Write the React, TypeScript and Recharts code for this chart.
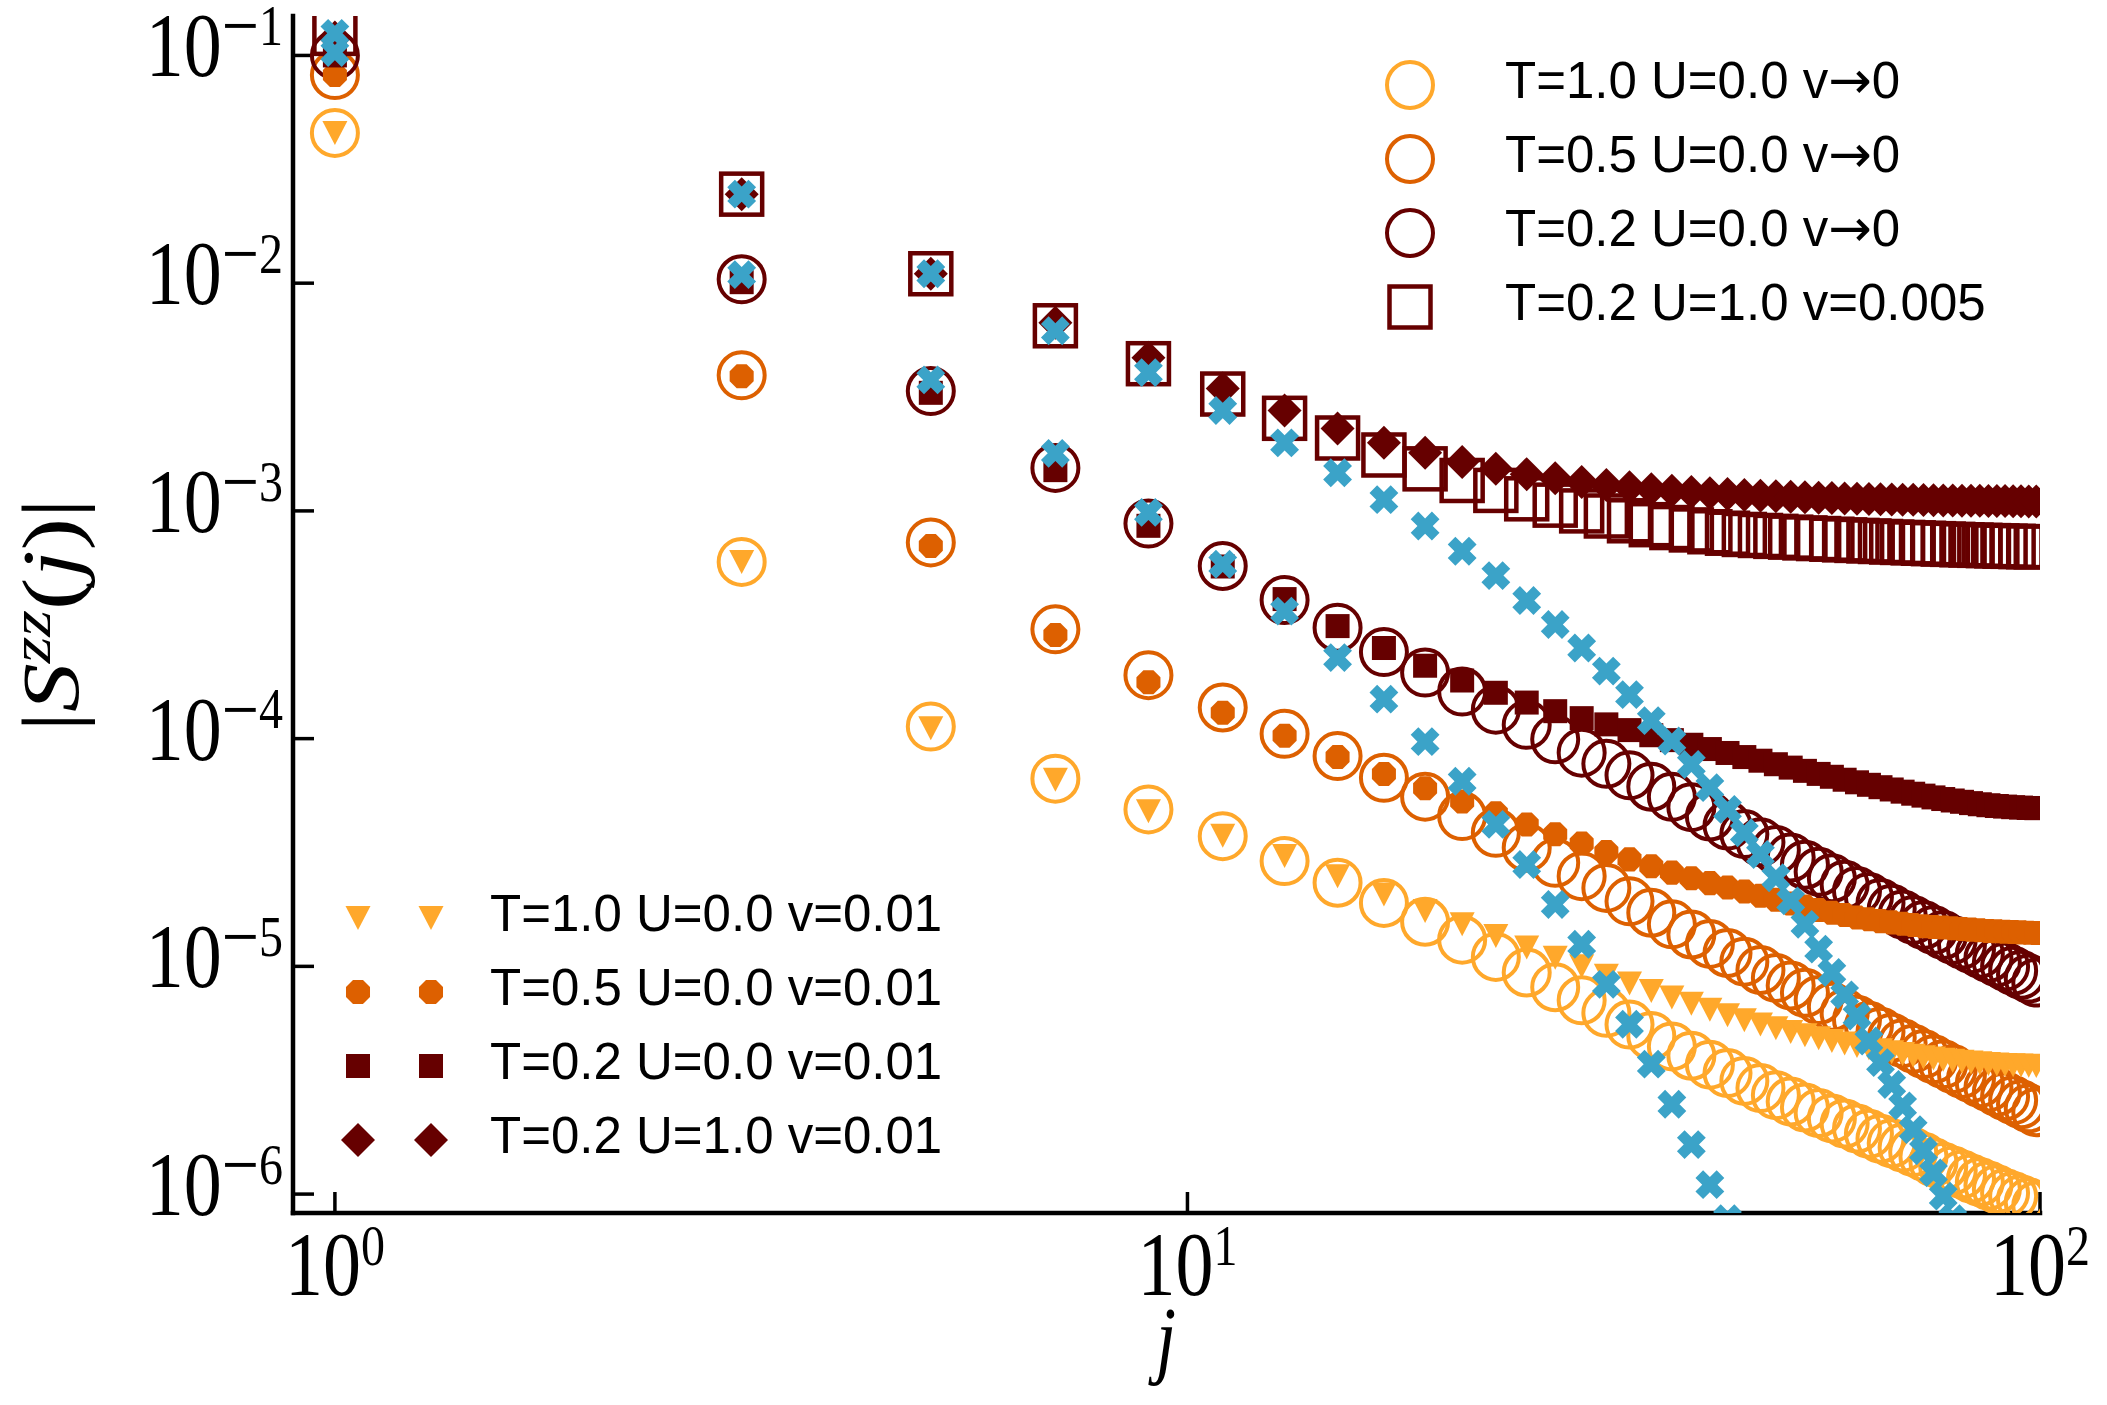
import React from 'react';
import { ScatterChart, Scatter, XAxis, YAxis } from 'recharts';

// site index j (odd sites)
const J = [1, 3, 5, 7, 9, 11, 13, 15, 17, 19, 21, 23, 25, 27, 29, 31, 33, 35, 37, 39, 41, 43, 45, 47, 49, 51, 53, 55, 57, 59, 61, 63, 65, 67, 69, 71, 73, 75, 77, 79, 81, 83, 85, 87, 89, 91, 93, 95, 97, 99];

// |S^zz(j)| — v -> 0 reference curves (open circles)
const T10_U0_V0 = [0.0457, 5.97e-4, 1.13e-4, 6.67e-5, 4.89e-5, 3.73e-5, 2.9e-5, 2.33e-5, 1.9e-5, 1.57e-5, 1.31e-5, 1.1e-5, 9.4e-6, 8.1e-6, 7.1e-6, 6.25e-6, 5.55e-6, 4.95e-6, 4.45e-6, 4.05e-6, 3.7e-6, 3.4e-6, 3.14e-6, 2.92e-6, 2.72e-6, 2.55e-6, 2.4e-6, 2.27e-6, 2.15e-6, 2.04e-6, 1.94e-6, 1.84e-6, 1.75e-6, 1.67e-6, 1.6e-6, 1.53e-6, 1.46e-6, 1.38e-6, 1.32e-6, 1.27e-6, 1.22e-6, 1.17e-6, 1.13e-6, 1.09e-6, 1.05e-6, 1.01e-6, 0.98e-6, 0.95e-6, 0.92e-6, 0.89e-6];
const T05_U0_V0 = [0.082, 3.94e-3, 7.27e-4, 3.02e-4, 1.9e-4, 1.37e-4, 1.05e-4, 8.38e-5, 6.73e-5, 5.56e-5, 4.57e-5, 3.86e-5, 3.32e-5, 2.85e-5, 2.49e-5, 2.21e-5, 1.93e-5, 1.72e-5, 1.53e-5, 1.38e-5, 1.255e-5, 1.145e-5, 1.049e-5, 9.64e-6, 8.9e-6, 8.24e-6, 7.65e-6, 7.12e-6, 6.64e-6, 6.22e-6, 5.83e-6, 5.48e-6, 5.16e-6, 4.86e-6, 4.6e-6, 4.35e-6, 4.12e-6, 3.91e-6, 3.72e-6, 3.54e-6, 3.37e-6, 3.22e-6, 3.07e-6, 2.94e-6, 2.81e-6, 2.69e-6, 2.58e-6, 2.48e-6, 2.38e-6, 2.29e-6];
const T02_U0_V0 = [0.1, 0.0104, 3.36e-3, 1.545e-3, 8.8e-4, 5.73e-4, 4.06e-4, 3.07e-4, 2.4e-4, 1.95e-4, 1.61e-4, 1.34e-4, 1.15e-4, 9.93e-5, 8.68e-5, 7.75e-5, 6.9e-5, 6.15e-5, 5.55e-5, 5.0e-5, 4.55e-5, 4.15e-5, 3.81e-5, 3.51e-5, 3.245e-5, 3.006e-5, 2.795e-5, 2.602e-5, 2.437e-5, 2.281e-5, 2.144e-5, 2.017e-5, 1.898e-5, 1.789e-5, 1.689e-5, 1.599e-5, 1.519e-5, 1.444e-5, 1.373e-5, 1.307e-5, 1.246e-5, 1.19e-5, 1.137e-5, 1.088e-5, 1.041e-5, 9.98e-6, 9.57e-6, 9.19e-6, 8.84e-6, 8.49e-6];
const T02_U1_V0005 = [0.125, 0.0246, 0.011, 6.5e-3, 4.43e-3, 3.26e-3, 2.55e-3, 2.09e-3, 1.76e-3, 1.53e-3, 1.36e-3, 1.23e-3, 1.13e-3, 1.06e-3, 1.0e-3, 9.5e-4, 9.05e-4, 8.7e-4, 8.45e-4, 8.25e-4, 8.1e-4, 7.98e-4, 7.88e-4, 7.8e-4, 7.73e-4, 7.67e-4, 7.61e-4, 7.56e-4, 7.51e-4, 7.46e-4, 7.42e-4, 7.38e-4, 7.34e-4, 7.3e-4, 7.27e-4, 7.24e-4, 7.21e-4, 7.18e-4, 7.15e-4, 7.13e-4, 7.1e-4, 7.08e-4, 7.06e-4, 7.04e-4, 7.02e-4, 7.0e-4, 6.99e-4, 6.97e-4, 6.96e-4, 6.95e-4];

// v = 0.01 curves (filled markers)
const T10_U0_V001 = [0.0457, 5.97e-4, 1.11e-4, 6.6e-5, 4.8e-5, 3.75e-5, 3.05e-5, 2.49e-5, 2.07e-5, 1.75e-5, 1.53e-5, 1.36e-5, 1.21e-5, 1.09e-5, 1.0e-5, 9.1e-6, 8.4e-6, 7.8e-6, 7.3e-6, 6.85e-6, 6.45e-6, 6.1e-6, 5.8e-6, 5.55e-6, 5.35e-6, 5.15e-6, 4.98e-6, 4.83e-6, 4.7e-6, 4.58e-6, 4.47e-6, 4.37e-6, 4.28e-6, 4.2e-6, 4.12e-6, 4.05e-6, 3.99e-6, 3.94e-6, 3.89e-6, 3.85e-6, 3.81e-6, 3.78e-6, 3.75e-6, 3.73e-6, 3.71e-6, 3.69e-6, 3.68e-6, 3.67e-6, 3.66e-6, 3.65e-6];
const T05_U0_V001 = [0.082, 3.9e-3, 7.02e-4, 2.85e-4, 1.77e-4, 1.3e-4, 1.03e-4, 8.3e-5, 7.0e-5, 6.05e-5, 5.3e-5, 4.7e-5, 4.2e-5, 3.8e-5, 3.46e-5, 3.18e-5, 2.95e-5, 2.75e-5, 2.58e-5, 2.44e-5, 2.32e-5, 2.22e-5, 2.13e-5, 2.04e-5, 1.96e-5, 1.89e-5, 1.83e-5, 1.77e-5, 1.72e-5, 1.68e-5, 1.64e-5, 1.61e-5, 1.58e-5, 1.56e-5, 1.54e-5, 1.52e-5, 1.5e-5, 1.49e-5, 1.48e-5, 1.47e-5, 1.46e-5, 1.45e-5, 1.44e-5, 1.43e-5, 1.425e-5, 1.42e-5, 1.415e-5, 1.41e-5, 1.405e-5, 1.4e-5];
const T02_U0_V001 = [0.1, 0.0101, 3.3e-3, 1.51e-3, 8.6e-4, 5.7e-4, 4.1e-4, 3.12e-4, 2.5e-4, 2.09e-4, 1.8e-4, 1.59e-4, 1.44e-4, 1.32e-4, 1.23e-4, 1.155e-4, 1.09e-4, 1.035e-4, 9.85e-5, 9.4e-5, 9.0e-5, 8.65e-5, 8.3e-5, 8.0e-5, 7.72e-5, 7.46e-5, 7.22e-5, 7.0e-5, 6.8e-5, 6.6e-5, 6.43e-5, 6.27e-5, 6.12e-5, 5.98e-5, 5.85e-5, 5.73e-5, 5.62e-5, 5.52e-5, 5.43e-5, 5.35e-5, 5.28e-5, 5.21e-5, 5.15e-5, 5.1e-5, 5.06e-5, 5.03e-5, 5.0e-5, 4.98e-5, 4.96e-5, 4.95e-5];
const T02_U1_V001 = [0.12, 0.0246, 0.011, 6.7e-3, 4.71e-3, 3.45e-3, 2.76e-3, 2.3e-3, 1.99e-3, 1.8e-3, 1.64e-3, 1.53e-3, 1.45e-3, 1.39e-3, 1.34e-3, 1.3e-3, 1.27e-3, 1.245e-3, 1.225e-3, 1.21e-3, 1.195e-3, 1.185e-3, 1.175e-3, 1.167e-3, 1.16e-3, 1.154e-3, 1.148e-3, 1.143e-3, 1.139e-3, 1.135e-3, 1.131e-3, 1.128e-3, 1.125e-3, 1.122e-3, 1.12e-3, 1.118e-3, 1.116e-3, 1.114e-3, 1.112e-3, 1.11e-3, 1.109e-3, 1.108e-3, 1.107e-3, 1.106e-3, 1.105e-3, 1.104e-3, 1.103e-3, 1.102e-3, 1.101e-3, 1.1e-3];

// unlabelled cross markers (two sets, starting at j = 1)
const CROSS_UPPER = [0.125, 0.0246, 0.011, 6.18e-3, 4.05e-3, 2.76e-3, 1.99e-3, 1.47e-3, 1.12e-3, 8.58e-4, 6.65e-4, 5.2e-4, 4.04e-4, 3.17e-4, 2.5e-4, 1.98e-4, 1.56e-4, 1.2e-4, 9.76e-5, 7.7e-5, 6.09e-5, 4.89e-5, 3.86e-5, 3.1e-5, 2.45e-5, 1.94e-5, 1.53e-5, 1.19e-5, 9.4e-6, 7.5e-6, 6.05e-6, 4.7e-6, 3.78e-6, 3.03e-6, 2.44e-6, 1.92e-6, 1.55e-6, 1.24e-6, 9.8e-7, 7.8e-7];
const CROSS_LOWER = [0.103, 0.0109, 3.76e-3, 1.79e-3, 9.85e-4, 5.83e-4, 3.63e-4, 2.27e-4, 1.49e-4, 9.7e-5, 6.5e-5, 4.2e-5, 2.8e-5, 1.87e-5, 1.25e-5, 8.34e-6, 5.57e-6, 3.72e-6, 2.48e-6, 1.65e-6, 1.1e-6, 7.8e-7];

// axis ticks
const X_MAJOR = [1, 10, 100];
const X_MINOR = [2, 3, 4, 5, 6, 7, 8, 9, 20, 30, 40, 50, 60, 70, 80, 90];
const Y_MAJOR = [1e-6, 1e-5, 1e-4, 1e-3, 1e-2, 1e-1];
const Y_MINOR = [
  9e-7,
  2e-6, 3e-6, 4e-6, 5e-6, 6e-6, 7e-6, 8e-6, 9e-6,
  2e-5, 3e-5, 4e-5, 5e-5, 6e-5, 7e-5, 8e-5, 9e-5,
  2e-4, 3e-4, 4e-4, 5e-4, 6e-4, 7e-4, 8e-4, 9e-4,
  2e-3, 3e-3, 4e-3, 5e-3, 6e-3, 7e-3, 8e-3, 9e-3,
  2e-2, 3e-2, 4e-2, 5e-2, 6e-2, 7e-2, 8e-2, 9e-2,
];

// legend labels: [prefix, relation, value]
const LEGEND_OPEN: [string, string, string][] = [
  ['T=1.0 U=0.0 v', '\u2192', '0'],
  ['T=0.5 U=0.0 v', '\u2192', '0'],
  ['T=0.2 U=0.0 v', '\u2192', '0'],
  ['T=0.2 U=1.0 v', '=', '0.005'],
];
const LEGEND_FILLED = ['T=1.0 U=0.0 v=0.01', 'T=0.5 U=0.0 v=0.01', 'T=0.2 U=0.0 v=0.01', 'T=0.2 U=1.0 v=0.01'];

const W = 2107;
const H = 1405;
const X_DOMAIN: [number, number] = [0.893, 100];
const Y_DOMAIN: [number, number] = [8.26e-7, 0.149];

const LIGHT = '#FFA82B';
const ORANGE = '#DD6000';
const DARK = '#660000';
const BLUE = '#3BA3C8';

const SERIF = "'Liberation Serif', 'DejaVu Serif', serif";
const SANS = "'Liberation Sans', Arial, sans-serif";

const rows = (vals: number[]) => vals.map((v, i) => ({ j: J[i], v }));

// ---- marker glyphs ----
type Pt = { cx?: number; cy?: number };

const openCircle = (color: string) => (p: Pt) => (
  <circle cx={p.cx} cy={p.cy} r={23} fill="none" stroke={color} strokeWidth={4} />
);
const openSquare = (color: string) => (p: Pt) => (
  <rect x={(p.cx as number) - 20.5} y={(p.cy as number) - 20.5} width={41} height={41} fill="none" stroke={color} strokeWidth={4.5} />
);
const triDown = (color: string) => (p: Pt) => {
  const x = p.cx as number;
  const y = p.cy as number;
  return <polygon points={`${x - 12.5},${y - 12} ${x + 12.5},${y - 12} ${x},${y + 12}`} fill={color} />;
};
const octagon = (color: string) => (p: Pt) => {
  const x = p.cx as number;
  const y = p.cy as number;
  const r = 13;
  const pts: string[] = [];
  for (let k = 0; k < 8; k++) {
    const a = ((22.5 + 45 * k) * Math.PI) / 180;
    pts.push(`${x + r * Math.cos(a)},${y + r * Math.sin(a)}`);
  }
  return <polygon points={pts.join(' ')} fill={color} />;
};
const filledSquare = (color: string) => (p: Pt) => (
  <rect x={(p.cx as number) - 12} y={(p.cy as number) - 12} width={24} height={24} fill={color} />
);
const diamond = (color: string) => (p: Pt) => {
  const x = p.cx as number;
  const y = p.cy as number;
  return <polygon points={`${x},${y - 17} ${x + 17},${y} ${x},${y + 17} ${x - 17},${y}`} fill={color} />;
};
const cross = (color: string) => (p: Pt) => {
  const L = 15;
  const w = 5.4;
  const pts = `${-w},${-L} ${w},${-L} ${w},${-w} ${L},${-w} ${L},${w} ${w},${w} ${w},${L} ${-w},${L} ${-w},${w} ${-L},${w} ${-L},${-w} ${-w},${-w}`;
  return <polygon transform={`translate(${p.cx},${p.cy}) rotate(45)`} points={pts} fill={color} />;
};

// ---- tick labels: 10^n ----
const XTick = (props: any) => {
  const { x, y, payload } = props;
  const e = Math.round(Math.log10(payload.value));
  return (
    <g transform={`translate(${x},${y + 103}) scale(1,1.2)`}>
      <text x={0} y={0} textAnchor="middle" fontFamily={SERIF} fontSize={76} fill="#000">
        10<tspan fontSize={48} dy={-25}>{String(e)}</tspan>
      </text>
    </g>
  );
};

const YTick = (props: any) => {
  const { x, y, payload } = props;
  const e = Math.round(Math.log10(payload.value));
  return (
    <g transform={`translate(${x - 31},${y + 21}) scale(1,1.2)`}>
      <text x={0} y={0} textAnchor="end" fontFamily={SERIF} fontSize={76} fill="#000">
        10<tspan fontSize={66} dy={-20}>{'\u2212'}</tspan><tspan fontSize={48} dy={-6}>{String(-e)}</tspan>
      </text>
    </g>
  );
};

const spine = { stroke: '#000', strokeWidth: 4.5, strokeLinecap: 'square' as const };
const major = { stroke: '#000', strokeWidth: 3.5 };
const minor = { stroke: '#000', strokeWidth: 3 };

export default function App() {
  const openSeries = [
    { data: rows(T10_U0_V0), shape: openCircle(LIGHT) },
    { data: rows(T05_U0_V0), shape: openCircle(ORANGE) },
    { data: rows(T02_U0_V0), shape: openCircle(DARK) },
    { data: rows(T02_U1_V0005), shape: openSquare(DARK) },
  ];
  const filledSeries = [
    { data: rows(T10_U0_V001), shape: triDown(LIGHT) },
    { data: rows(T05_U0_V001), shape: octagon(ORANGE) },
    { data: rows(T02_U0_V001), shape: filledSquare(DARK) },
    { data: rows(T02_U1_V001), shape: diamond(DARK) },
  ];
  const crossSeries = [rows(CROSS_UPPER), rows(CROSS_LOWER)];

  const legendOpenShapes = [openCircle(LIGHT), openCircle(ORANGE), openCircle(DARK), openSquare(DARK)];
  const legendFilledShapes = [triDown(LIGHT), octagon(ORANGE), filledSquare(DARK), diamond(DARK)];
  const openRows = [85, 159, 233, 307];
  const filledRows = [918, 992, 1066, 1140];

  return (
    <div style={{ position: 'absolute', left: 0, top: 0, width: W, height: H, background: '#fff' }}>
      <ScatterChart width={W} height={H} margin={{ top: 16, right: 67, bottom: 0, left: 0 }}>
        {/* bottom axis: labels + major ticks */}
        <XAxis
          dataKey="j" type="number" scale="log" domain={X_DOMAIN} allowDataOverflow
          ticks={X_MAJOR} interval={0} orientation="bottom" height={192}
          tickSize={-21} tickMargin={0} tickLine={major} axisLine={spine} tick={XTick}
        />
        <XAxis
          xAxisId="xb" dataKey="j" type="number" scale="log" domain={X_DOMAIN} allowDataOverflow
          ticks={X_MINOR} interval={0} orientation="bottom" mirror height={0}
          tickSize={9} tickLine={minor} axisLine={false} tick={false}
        />
        <XAxis
          xAxisId="xt" dataKey="j" type="number" scale="log" domain={X_DOMAIN} allowDataOverflow
          ticks={X_MAJOR} interval={0} orientation="top" mirror height={0}
          tickSize={21} tickLine={major} axisLine={spine} tick={false}
        />
        <XAxis
          xAxisId="xtm" dataKey="j" type="number" scale="log" domain={X_DOMAIN} allowDataOverflow
          ticks={X_MINOR} interval={0} orientation="top" mirror height={0}
          tickSize={9} tickLine={minor} axisLine={false} tick={false}
        />
        {/* left axis: labels + major ticks */}
        <YAxis
          dataKey="v" type="number" scale="log" domain={Y_DOMAIN} allowDataOverflow
          ticks={Y_MAJOR} interval={0} orientation="left" width={293}
          tickSize={-21} tickMargin={0} tickLine={major} axisLine={spine} tick={YTick}
        />
        <YAxis
          yAxisId="yl" dataKey="v" type="number" scale="log" domain={Y_DOMAIN} allowDataOverflow
          ticks={Y_MINOR} interval={0} orientation="left" mirror width={0}
          tickSize={10} tickLine={minor} axisLine={false} tick={false}
        />
        <YAxis
          yAxisId="yr" dataKey="v" type="number" scale="log" domain={Y_DOMAIN} allowDataOverflow
          ticks={Y_MAJOR} interval={0} orientation="right" mirror width={0}
          tickSize={21} tickLine={major} axisLine={spine} tick={false}
        />
        <YAxis
          yAxisId="yrm" dataKey="v" type="number" scale="log" domain={Y_DOMAIN} allowDataOverflow
          ticks={Y_MINOR} interval={0} orientation="right" mirror width={0}
          tickSize={10} tickLine={minor} axisLine={false} tick={false}
        />

        {openSeries.map((s, i) => (
          <Scatter key={`o${i}`} data={s.data} shape={s.shape} isAnimationActive={false} />
        ))}
        {filledSeries.map((s, i) => (
          <Scatter key={`f${i}`} data={s.data} shape={s.shape} isAnimationActive={false} />
        ))}
        {crossSeries.map((d, i) => (
          <Scatter key={`c${i}`} data={d} shape={cross(BLUE)} isAnimationActive={false} />
        ))}
      </ScatterChart>

      <svg width={W} height={H} style={{ position: 'absolute', left: 0, top: 0, pointerEvents: 'none' }}>
        {/* axis titles */}
        <g transform="translate(1166,1367) scale(1,1.2)">
          <text x={0} y={0} textAnchor="middle" fontFamily={SERIF} fontStyle="italic" fontSize={72} fill="#000">j</text>
        </g>
        <g transform="translate(78,615) rotate(-90) scale(1.22,1)">
          <text x={0} y={0} textAnchor="middle" fontFamily={SERIF} fontSize={80} fill="#000">|<tspan fontStyle="italic">S</tspan><tspan fontStyle="italic" fontSize={56} dy={-28}>zz</tspan><tspan dy={28}>(</tspan><tspan fontStyle="italic">j</tspan>)|</text>
        </g>

        {/* legend: v -> 0 and v = 0.005 */}
        {LEGEND_OPEN.map(([pre, rel, val], i) => (
          <g key={`lo${i}`}>
            {legendOpenShapes[i]({ cx: 1410, cy: openRows[i] })}
            <text x={1505} y={openRows[i] + 13} fontFamily={SANS} fontSize={51} fill="#000">
              {pre}
              {rel === '=' ? (
                <tspan>{rel}</tspan>
              ) : (
                <tspan fontFamily="'DejaVu Sans', sans-serif" fontSize={52}>{rel}</tspan>
              )}
              {val}
            </text>
          </g>
        ))}

        {/* legend: v = 0.01 */}
        {LEGEND_FILLED.map((label, i) => (
          <g key={`lf${i}`}>
            {legendFilledShapes[i]({ cx: 358, cy: filledRows[i] })}
            {legendFilledShapes[i]({ cx: 431, cy: filledRows[i] })}
            <text x={490} y={filledRows[i] + 13} fontFamily={SANS} fontSize={51} fill="#000">{label}</text>
          </g>
        ))}
      </svg>
    </div>
  );
}
